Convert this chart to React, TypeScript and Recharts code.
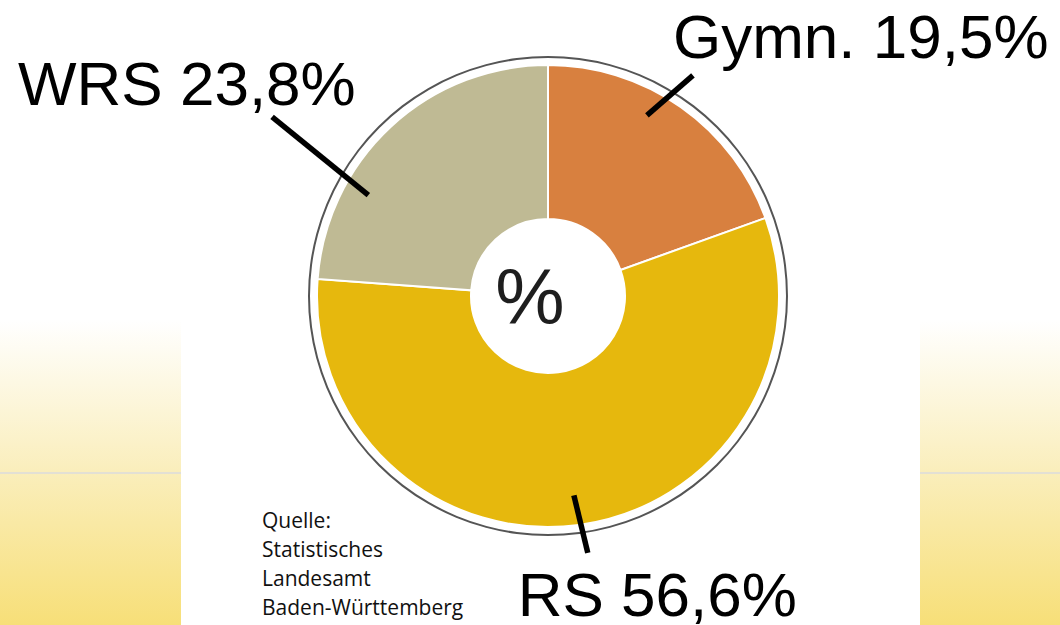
import React from "react";
import { PieChart, Pie, Cell, Label } from "recharts";

const categories = ["Gymn.", "RS", "WRS"];
const shares = [19.5, 56.6, 23.8];
const sliceColors = ["#D8803F", "#E6B80D", "#BFBA94"];
const centerText = "%";
const sourceLines = ["Quelle:", "Statistisches", "Landesamt", "Baden-Württemberg"];

const data = categories.map((name, i) => ({ name, value: shares[i] }));
const ringData = [{ name: "ring", value: 1 }];

// annotation layout: polar line ends (deg, radius) and text offset from outer end
const labelLayout = [
  { a1: 61.3, r1: 206, a2: 56.7, r2: 264, tx: -20, ty: -17 },
  { a1: -82.6, r1: 201, a2: -81.2, r2: 260, tx: -70, ty: 63 },
  { a1: 150.7, r1: 206, a2: 147, r2: 329, tx: -254, ty: -12 },
];

const W = 1060;
const H = 625;
const CX = 548;
const CY = 296;
const RAD = Math.PI / 180;

const fmt = (v: number) => v.toFixed(1).replace(".", ",") + "%";

const renderLabel = (props: any) => {
  const { cx, cy, index, name, value } = props;
  const L = labelLayout[index];
  const x1 = cx + L.r1 * Math.cos(L.a1 * RAD);
  const y1 = cy - L.r1 * Math.sin(L.a1 * RAD);
  const x2 = cx + L.r2 * Math.cos(L.a2 * RAD);
  const y2 = cy - L.r2 * Math.sin(L.a2 * RAD);
  return (
    <g>
      <line x1={x1} y1={y1} x2={x2} y2={y2} stroke="#000" strokeWidth={5.5} />
      <text
        x={x2 + L.tx}
        y={y2 + L.ty}
        fill="#000"
        fontSize={62}
        fontFamily="'Liberation Sans', Arial, sans-serif"
        textAnchor="start"
      >
        {`${name} ${fmt(value)}`}
      </text>
    </g>
  );
};

export default function App() {
  return (
    <div style={{ position: "absolute", left: 0, top: 0, width: W, height: H, background: "#fff" }}>
      <svg width={W} height={H} style={{ position: "absolute", left: 0, top: 0 }}>
        <defs>
          <linearGradient id="panelGrad" x1="0" y1="0" x2="0" y2="1">
            <stop offset="0%" stopColor="#FFFFFF" />
            <stop offset="50%" stopColor="#FAEEBB" />
            <stop offset="100%" stopColor="#F7DF78" />
          </linearGradient>
        </defs>
        <rect x={0} y={320} width={181} height={305} fill="url(#panelGrad)" />
        <rect x={920} y={320} width={140} height={305} fill="url(#panelGrad)" />
        <rect x={0} y={472} width={181} height={2} fill="#E3E0D4" />
        <rect x={920} y={472} width={140} height={2} fill="#E3E0D4" />
      </svg>
      <div style={{ position: "absolute", left: 0, top: 0 }}>
        <PieChart width={W} height={H} margin={{ top: 0, right: 0, bottom: 0, left: 0 }}>
          <Pie
            data={ringData}
            dataKey="value"
            cx={CX}
            cy={CY}
            innerRadius={238}
            outerRadius={240}
            startAngle={90}
            endAngle={-270}
            fill="#555555"
            stroke="none"
            isAnimationActive={false}
          />
          <Pie
            data={data}
            dataKey="value"
            nameKey="name"
            cx={CX}
            cy={CY}
            innerRadius={77}
            outerRadius={231}
            startAngle={90}
            endAngle={-270}
            stroke="#ffffff"
            strokeWidth={2}
            label={renderLabel}
            labelLine={false}
            isAnimationActive={false}
          >
            {data.map((d, i) => (
              <Cell key={d.name} fill={sliceColors[i]} />
            ))}
            <Label
              value={centerText}
              position="center"
              fill="#1e1e1e"
              fontSize={78}
              fontFamily="'Liberation Sans', Arial, sans-serif"
              dy={-16}
            />
          </Pie>
        </PieChart>
      </div>
      <svg width={W} height={H} style={{ position: "absolute", left: 0, top: 0, pointerEvents: "none" }}>
        {sourceLines.map((t, i) => (
          <text
            key={t}
            x={262}
            y={528 + i * 29}
            fontSize={21}
            fill="#111"
            fontFamily="'Open Sans', sans-serif"
          >
            {t}
          </text>
        ))}
      </svg>
    </div>
  );
}
